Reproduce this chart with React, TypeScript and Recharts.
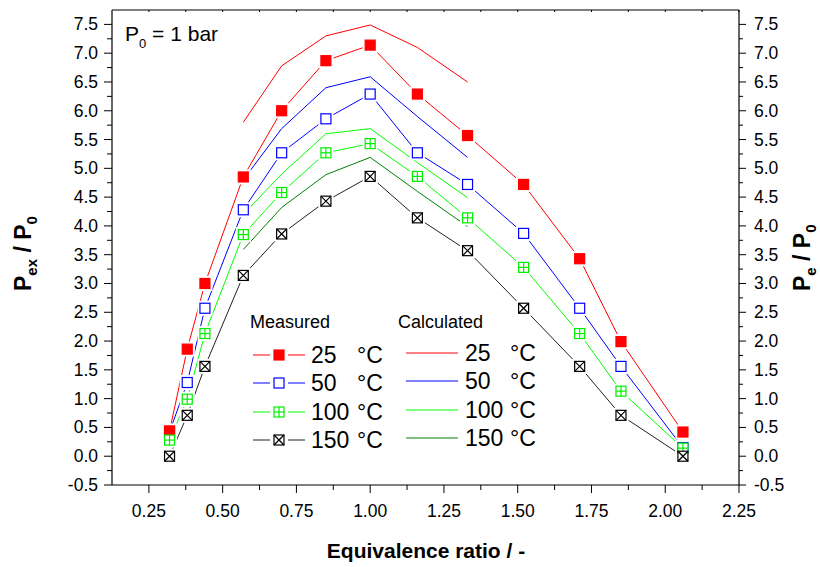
import React from 'react';
import { LineChart, Line, XAxis, YAxis } from 'recharts';

// ---------- data ----------
const phiMeasured = [0.32, 0.38, 0.44, 0.57, 0.70, 0.85, 1.00, 1.16, 1.33, 1.52, 1.71, 1.85, 2.06];
const meas25 = [0.44, 1.86, 3.0, 4.85, 6.0, 6.87, 7.14, 6.29, 5.57, 4.72, 3.43, 1.99, 0.42];
const meas50 = [0.42, 1.28, 2.57, 4.28, 5.27, 5.86, 6.29, 5.27, 4.72, 3.87, 2.57, 1.56, 0.15];
const meas100 = [0.28, 0.99, 2.13, 3.85, 4.58, 5.27, 5.43, 4.86, 4.14, 3.28, 2.13, 1.13, 0.14];
const meas150 = [0.0, 0.71, 1.56, 3.14, 3.86, 4.43, 4.86, 4.14, 3.57, 2.57, 1.56, 0.71, 0.0];

const phiCalc = [0.57, 0.70, 0.85, 1.00, 1.16, 1.33];
const calc25 = [5.8, 6.78, 7.3, 7.49, 7.1, 6.5];
const calc50 = [4.8, 5.69, 6.4, 6.59, 5.9, 5.19];
const calc100 = [4.2, 4.9, 5.6, 5.69, 5.1, 4.49];
const calc150 = [3.59, 4.32, 4.89, 5.19, 4.6, 3.99];

const tempLabels = ['25', '50', '100', '150'];
const xMajorTicks = [0.25, 0.5, 0.75, 1.0, 1.25, 1.5, 1.75, 2.0, 2.25];
const yMajorTicks = [-0.5, 0, 0.5, 1, 1.5, 2, 2.5, 3, 3.5, 4, 4.5, 5, 5.5, 6, 6.5, 7, 7.5];

// ---------- helpers ----------
const FONT = '"Liberation Sans", Arial, Helvetica, sans-serif';
const rows = (xs: number[], ys: number[]) => xs.map((x, i) => ({ x, y: ys[i] }));

// minor ticks halfway between majors
const withMinor = (majors: number[]) => {
  const out: number[] = [];
  majors.forEach((m, i) => {
    out.push(m);
    if (i < majors.length - 1) out.push((m + majors[i + 1]) / 2);
  });
  return out;
};
const xTicks = withMinor(xMajorTicks);
const yTicks = withMinor(yMajorTicks);
const isIn = (arr: number[], v: number) => arr.some((a) => Math.abs(a - v) < 1e-6);

const measuredSeries = [
  { name: '25', data: rows(phiMeasured, meas25), color: '#ff0000', kind: 'filled' },
  { name: '50', data: rows(phiMeasured, meas50), color: '#0000ff', kind: 'open' },
  { name: '100', data: rows(phiMeasured, meas100), color: '#00ee00', kind: 'plus' },
  { name: '150', data: rows(phiMeasured, meas150), color: '#000000', kind: 'cross' },
];
// drawing order of the markers (blue first so it hides under red / green where they overlap)
const markerOrder = [1, 0, 2, 3];
const calcSeries = [
  { name: '25', data: rows(phiCalc, calc25), color: '#ff0000' },
  { name: '50', data: rows(phiCalc, calc50), color: '#0000ff' },
  { name: '100', data: rows(phiCalc, calc100), color: '#00ff00' },
  { name: '150', data: rows(phiCalc, calc150), color: '#008000' },
];
const measLineColors = ['#ff0000', '#0000ff', '#00ff00', '#222222'];

function Marker({ cx, cy, kind, color }: any) {
  const s = 5;
  const sw = 1.2;
  if (cx == null || cy == null) return null;
  const rect = (
    <rect x={cx - s} y={cy - s} width={2 * s} height={2 * s}
      fill={kind === 'filled' ? color : '#ffffff'} stroke={color} strokeWidth={sw} />
  );
  return (
    <g>
      {rect}
      {kind === 'plus' && (
        <>
          <line x1={cx} x2={cx} y1={cy - s} y2={cy + s} stroke={color} strokeWidth={sw} />
          <line x1={cx - s} x2={cx + s} y1={cy} y2={cy} stroke={color} strokeWidth={sw} />
        </>
      )}
      {kind === 'cross' && (
        <>
          <line x1={cx - s} x2={cx + s} y1={cy - s} y2={cy + s} stroke={color} strokeWidth={sw} />
          <line x1={cx - s} x2={cx + s} y1={cy + s} y2={cy - s} stroke={color} strokeWidth={sw} />
        </>
      )}
    </g>
  );
}

const BottomTick = (props: any) => {
  const { x, y, payload } = props;
  const v = payload.value;
  const major = isIn(xMajorTicks, v);
  return (
    <g>
      <line x1={x} x2={x} y1={y} y2={y + (major ? 8 : 5)} stroke="#000" strokeWidth={1} />
      {major && (
        <text x={x} y={y + 32} textAnchor="middle" fontFamily={FONT} fontSize={17.5} fill="#000">
          {v.toFixed(2)}
        </text>
      )}
    </g>
  );
};

const TopTick = (props: any) => {
  const { x, y } = props;
  return <line x1={x} x2={x} y1={y} y2={y + 2} stroke="#000" strokeWidth={1} />;
};

const LeftTick = (props: any) => {
  const { x, y, payload } = props;
  const v = payload.value;
  const major = isIn(yMajorTicks, v);
  return (
    <g>
      <line x1={x} x2={x - (major ? 8 : 5)} y1={y} y2={y} stroke="#000" strokeWidth={1} />
      {major && (
        <text x={x - 14} y={y + 6} textAnchor="end" fontFamily={FONT} fontSize={17.5} fill="#000">
          {v.toFixed(1)}
        </text>
      )}
    </g>
  );
};

const RightTick = (props: any) => {
  const { x, y, payload } = props;
  const v = payload.value;
  const major = isIn(yMajorTicks, v);
  return (
    <g>
      <line x1={x} x2={x + (major ? 7 : 4)} y1={y} y2={y} stroke="#000" strokeWidth={1} />
      {major && (
        <text x={x + 15} y={y + 6} textAnchor="start" fontFamily={FONT} fontSize={17.5} fill="#000">
          {v.toFixed(1)}
        </text>
      )}
    </g>
  );
};

const X_DOMAIN: [number, number] = [0.125, 2.25];
const Y_DOMAIN: [number, number] = [-0.5, 7.75];

export default function App() {
  const legendRowsY = [355, 383, 412, 440];
  return (
    <div style={{ position: 'absolute', left: 0, top: 0, width: 820, height: 567, background: '#fff' }}>
      <LineChart width={820} height={567} margin={{ top: 0, right: 0, bottom: 0, left: 0 }}>
        <XAxis xAxisId="b" dataKey="x" type="number" domain={X_DOMAIN} ticks={xTicks} interval={0}
          orientation="bottom" height={82} tickSize={0} tickMargin={0} tickLine={false}
          axisLine={{ stroke: '#000', strokeWidth: 1.2 }} tick={<BottomTick />} allowDataOverflow />
        <XAxis xAxisId="t" dataKey="x" type="number" domain={X_DOMAIN} ticks={xTicks} interval={0}
          orientation="top" height={10} tickSize={0} tickMargin={0} tickLine={false}
          axisLine={{ stroke: '#000', strokeWidth: 1.2 }} tick={<TopTick />} allowDataOverflow />
        <YAxis yAxisId="l" type="number" domain={Y_DOMAIN} ticks={yTicks} interval={0}
          orientation="left" width={112} tickSize={0} tickMargin={0} tickLine={false}
          axisLine={{ stroke: '#000', strokeWidth: 1.2 }} tick={<LeftTick />} allowDataOverflow />
        <YAxis yAxisId="r" type="number" domain={Y_DOMAIN} ticks={yTicks} interval={0}
          orientation="right" width={81} tickSize={0} tickMargin={0} tickLine={false}
          axisLine={{ stroke: '#000', strokeWidth: 1.2 }} tick={<RightTick />} allowDataOverflow />

        {calcSeries.map((s) => (
          <Line key={'c' + s.name} xAxisId="b" yAxisId="l" data={s.data} dataKey="y" type="linear"
            stroke={s.color} strokeWidth={1} dot={false} activeDot={false} isAnimationActive={false} />
        ))}
        {measuredSeries.map((s, i) => (
          <Line key={'m' + s.name} xAxisId="b" yAxisId="l" data={s.data} dataKey="y" type="linear"
            stroke={measLineColors[i]} strokeWidth={1} dot={false} activeDot={false} isAnimationActive={false} />
        ))}
        {measuredSeries.map((s) => (
          <Line key={'h' + s.name} xAxisId="b" yAxisId="l" data={s.data} dataKey="y" type="linear"
            stroke="none" activeDot={false} isAnimationActive={false}
            dot={(p: any) => (
              <rect key={'h' + s.name + p.index} x={p.cx - 7.5} y={p.cy - 7.5} width={15} height={15} fill="#fff" />
            )} />
        ))}
        {markerOrder.map((k) => {
          const s = measuredSeries[k];
          return (
            <Line key={'d' + s.name} xAxisId="b" yAxisId="l" data={s.data} dataKey="y" type="linear"
              stroke="none" activeDot={false} isAnimationActive={false}
              dot={(p: any) => (
                <Marker key={'d' + s.name + p.index} cx={p.cx} cy={p.cy} kind={s.kind} color={s.color} />
              )} />
          );
        })}
      </LineChart>

      <svg width={820} height={567} style={{ position: 'absolute', left: 0, top: 0, pointerEvents: 'none' }}>
        {/* annotation */}
        <text x={125} y={41} fontFamily={FONT} fontSize={21} fill="#000">
          P<tspan fontSize={13} dy={7}>0</tspan><tspan dy={-7}> = 1 bar</tspan>
        </text>

        {/* axis titles */}
        <text x={426} y={558} textAnchor="middle" fontFamily={FONT} fontSize={21} fontWeight="bold" fill="#000">
          Equivalence ratio / -
        </text>
        <text transform="translate(31,291) rotate(-90)" textAnchor="start" fontFamily={FONT} fontSize={23}
          fontWeight="bold" fill="#000">
          P<tspan fontSize={15} dy={6}>ex</tspan><tspan dy={-6}> / P</tspan><tspan fontSize={15} dy={6}>0</tspan>
        </text>
        <text transform="translate(810,291) rotate(-90)" textAnchor="start" fontFamily={FONT} fontSize={23}
          fontWeight="bold" fill="#000">
          P<tspan fontSize={15} dy={6}>e</tspan><tspan dy={-6}> / P</tspan><tspan fontSize={15} dy={6}>0</tspan>
        </text>

        {/* legend */}
        <text x={250} y={328} fontFamily={FONT} fontSize={18} fill="#000">Measured</text>
        <text x={398} y={328} fontFamily={FONT} fontSize={18} fill="#000">Calculated</text>
        {measuredSeries.map((s, i) => {
          const cy = legendRowsY[i];
          return (
            <g key={'lm' + i}>
              <line x1={253} x2={270} y1={cy} y2={cy} stroke={measLineColors[i]} strokeWidth={1} />
              <line x1={288} x2={305} y1={cy} y2={cy} stroke={measLineColors[i]} strokeWidth={1} />
              <Marker cx={279} cy={cy} kind={s.kind} color={s.color} />
              <text x={311} y={cy + 8} fontFamily={FONT} fontSize={23} fill="#000">{tempLabels[i]}</text>
              <text x={357} y={cy + 8} fontFamily={FONT} fontSize={23} fill="#000">°C</text>
            </g>
          );
        })}
        {calcSeries.map((s, i) => {
          const cy = legendRowsY[i] - 2;
          return (
            <g key={'lc' + i}>
              <line x1={406} x2={458} y1={cy} y2={cy} stroke={s.color} strokeWidth={1} />
              <text x={465} y={cy + 8} fontFamily={FONT} fontSize={23} fill="#000">{tempLabels[i]}</text>
              <text x={510} y={cy + 8} fontFamily={FONT} fontSize={23} fill="#000">°C</text>
            </g>
          );
        })}
      </svg>
    </div>
  );
}
